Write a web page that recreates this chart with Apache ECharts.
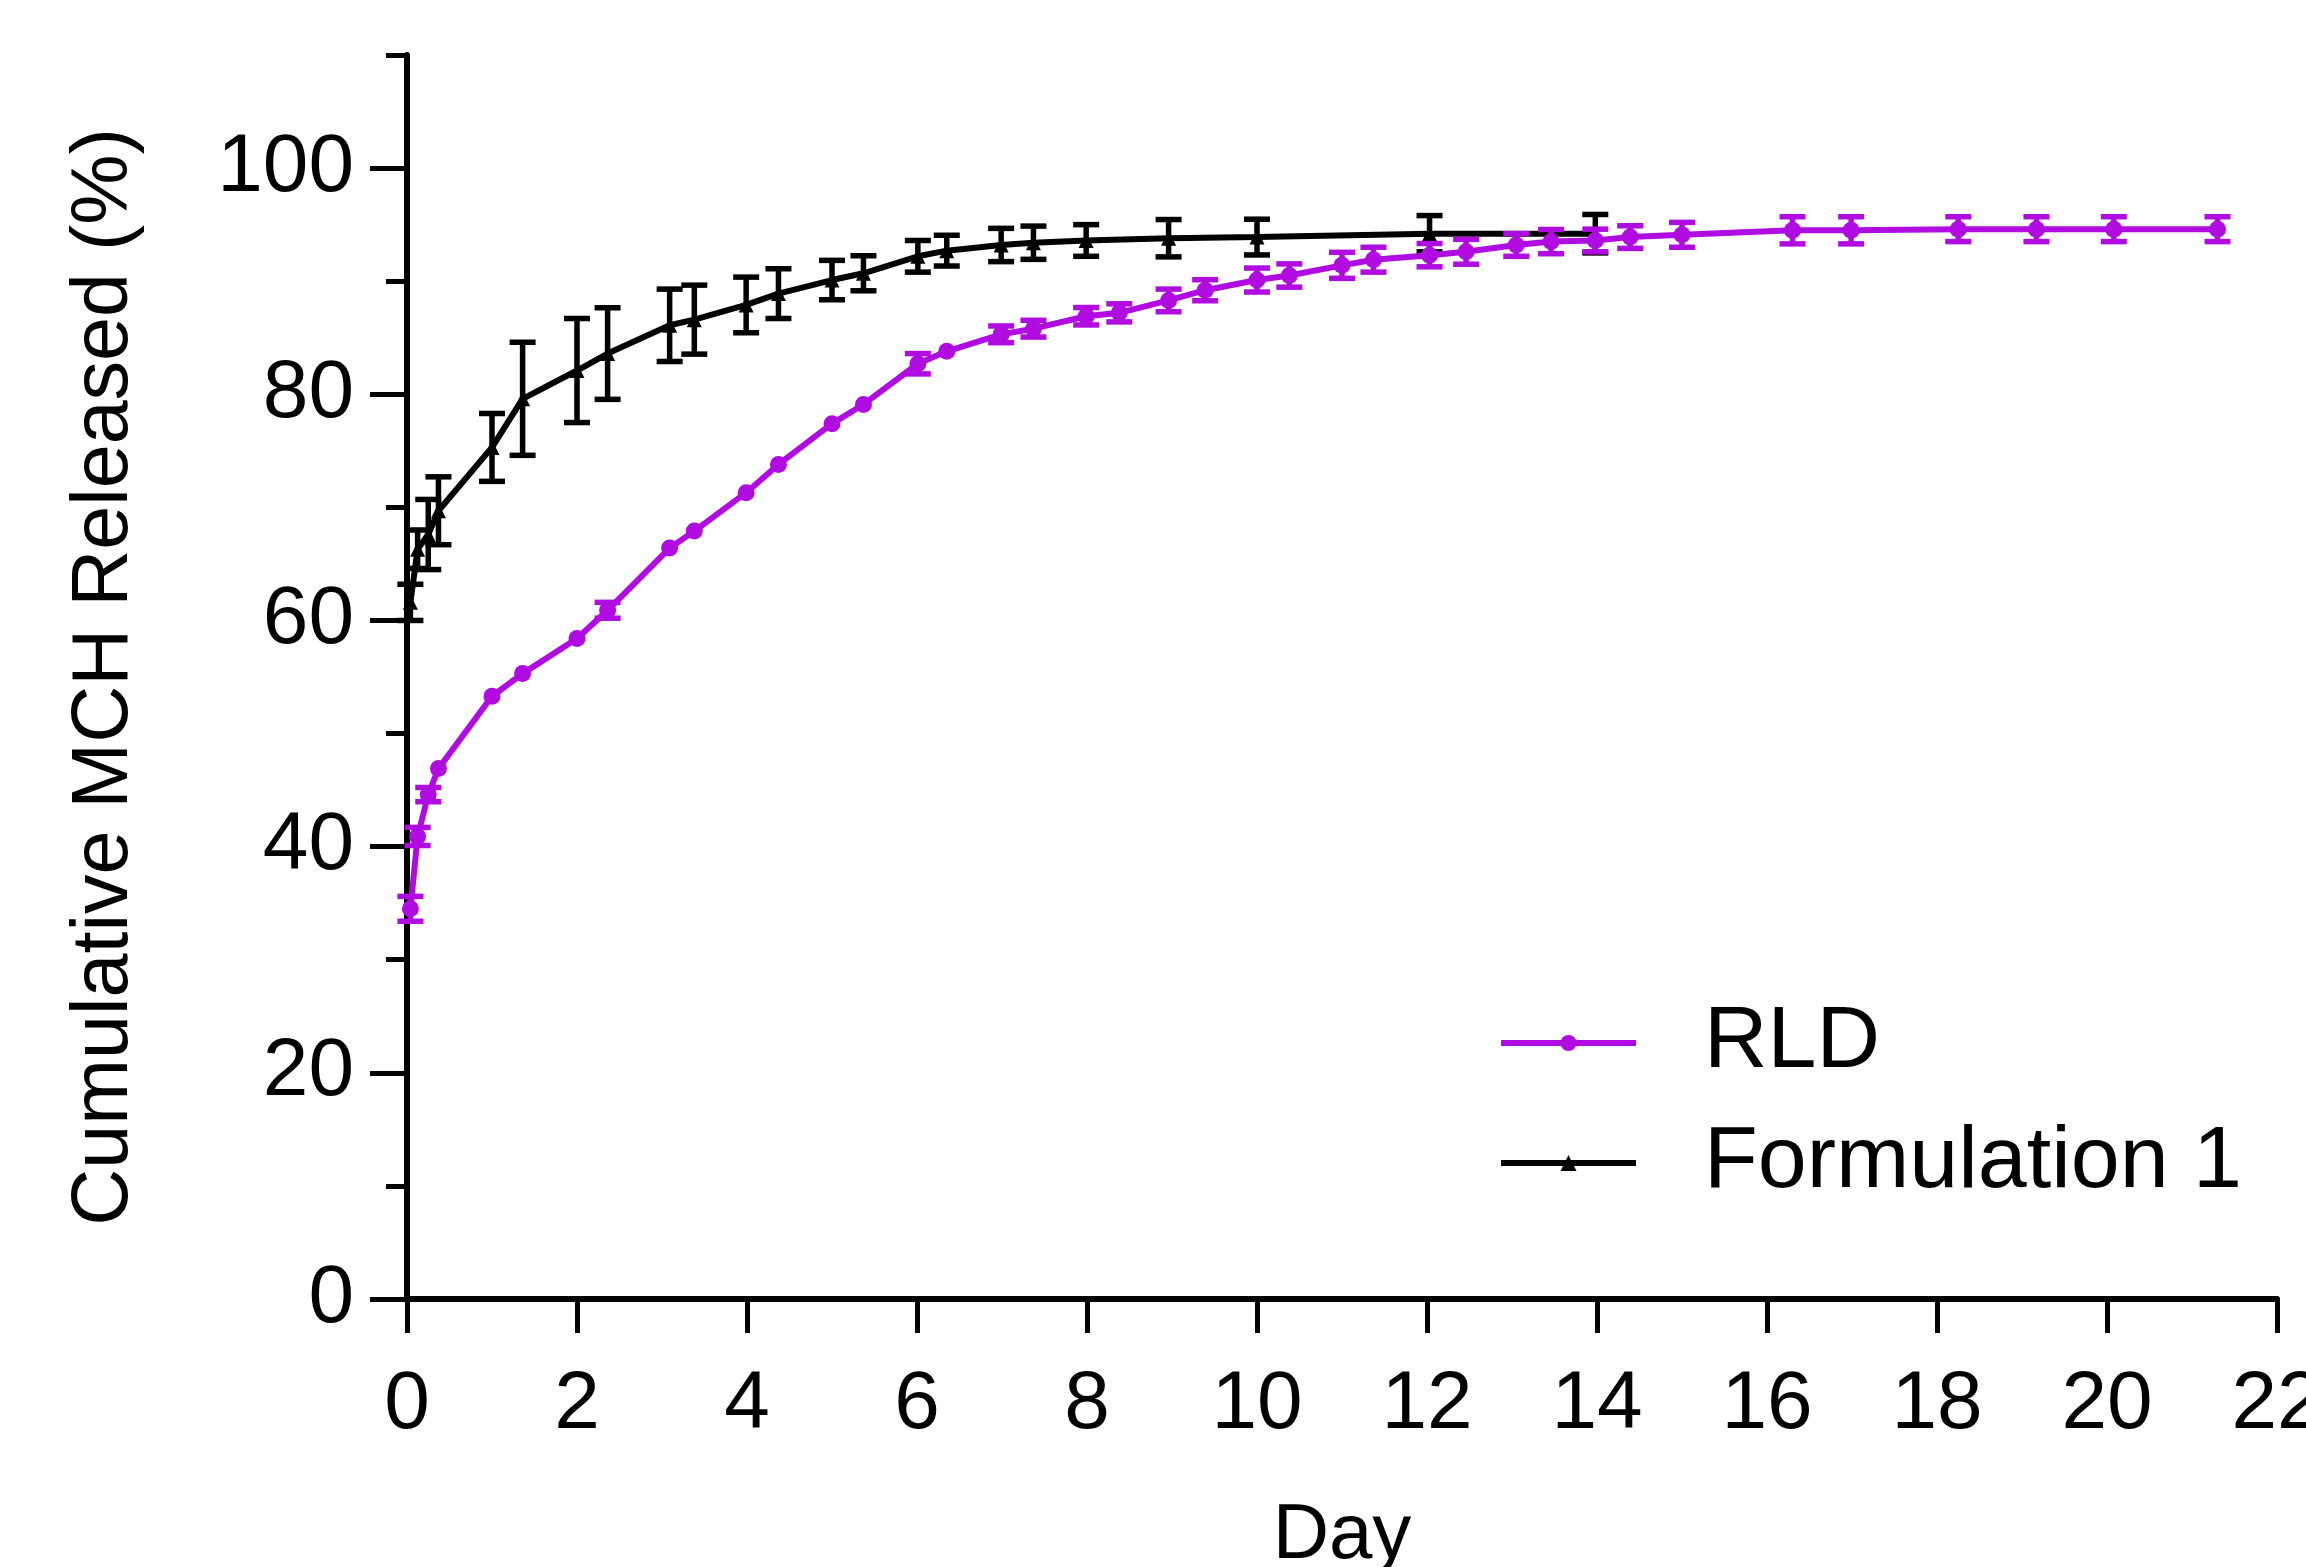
<!DOCTYPE html>
<html><head><meta charset="utf-8">
<script src="https://cdn.jsdelivr.net/npm/echarts@6/dist/echarts.min.js"></script>
<style>html,body{margin:0;padding:0;background:#fff;overflow:hidden}#chart{width:2306px;height:1567px}</style>
</head><body><div id="chart"></div>
<script>
// ---- data ----
const rldDays = [0.04, 0.125, 0.25, 0.37, 1.0, 1.36, 2.0, 2.36, 3.09, 3.38, 3.99, 4.37, 5.0, 5.37, 6.01, 6.35, 6.99, 7.37, 7.99, 8.38, 8.96, 9.39, 10.0, 10.38, 11.0, 11.37, 12.03, 12.46, 13.05, 13.46, 13.98, 14.39, 15.0, 16.3, 16.99, 18.25, 19.17, 20.08, 21.3];
const rldMean = [34.5, 40.9, 44.6, 46.9, 53.3, 55.3, 58.4, 60.9, 66.4, 67.9, 71.3, 73.8, 77.4, 79.1, 82.7, 83.8, 85.3, 85.8, 86.9, 87.2, 88.3, 89.2, 90.1, 90.5, 91.4, 91.9, 92.3, 92.6, 93.2, 93.5, 93.6, 93.9, 94.1, 94.5, 94.5, 94.6, 94.6, 94.6, 94.6];
const rldErr  = [1.1, 0.8, 0.63, 0, 0, 0, 0, 0.7, 0, 0, 0, 0, 0, 0, 0.9, 0, 0.74, 0.74, 0.77, 0.8, 1.0, 0.93, 1.06, 1.03, 1.15, 1.1, 1.03, 1.1, 1.0, 1.07, 1.0, 1.0, 1.1, 1.2, 1.2, 1.1, 1.1, 1.1, 1.1];

const f1Days = [0.04, 0.125, 0.25, 0.37, 1.0, 1.36, 2.0, 2.36, 3.09, 3.38, 3.99, 4.37, 5.0, 5.37, 6.01, 6.35, 6.99, 7.37, 7.99, 8.96, 10.0, 12.03, 13.98];
const f1Mean = [61.6, 66.3, 67.6, 69.7, 75.3, 79.6, 82.1, 83.6, 86.1, 86.6, 87.9, 88.9, 90.1, 90.7, 92.2, 92.7, 93.2, 93.4, 93.6, 93.8, 93.9, 94.2, 94.2];
const f1Err  = [1.6, 1.7, 3.1, 3.0, 3.0, 5.0, 4.6, 4.05, 3.2, 3.05, 2.46, 2.2, 1.74, 1.55, 1.4, 1.36, 1.47, 1.47, 1.4, 1.65, 1.58, 1.6, 1.7];

const seriesNames = ['RLD', 'Formulation 1'];
const xTitle = 'Day';
const yTitle = 'Cumulative MCH Released (%)';

// ---- styling ----
const FONT = '"Liberation Sans", Arial, sans-serif';
const PURPLE = '#B00BE0';
const BLACK = '#000000';
const W = 2306, H = 1567;

function zip(d, m, e) { return d.map((x, i) => e ? [x, m[i], e[i]] : [x, m[i]]); }

function errRender(color) {
  return function (params, api) {
    const x = api.value(0), y = api.value(1), e = api.value(2);
    if (!e) return null;
    const top = api.coord([x, y + e]);
    const bot = api.coord([x, y - e]);
    const hw = 13;
    const style = { stroke: color, lineWidth: 5.5, fill: null };
    return {
      type: 'group', children: [
        { type: 'line', shape: { x1: top[0], y1: top[1], x2: bot[0], y2: bot[1] }, style: style },
        { type: 'line', shape: { x1: top[0] - hw, y1: top[1], x2: top[0] + hw, y2: top[1] }, style: style },
        { type: 'line', shape: { x1: bot[0] - hw, y1: bot[1], x2: bot[0] + hw, y2: bot[1] }, style: style }
      ]
    };
  };
}

const chart = echarts.init(document.getElementById('chart'), null, { renderer: 'canvas', width: W, height: H });
chart.setOption({
  animation: false,
  backgroundColor: '#fff',
  textStyle: { fontFamily: FONT },
  grid: [
    { left: 407, right: 29, top: 55, bottom: 268, containLabel: false, outerBoundsMode: 'none' },
    { left: 407, right: 29, top: 168, bottom: 268, containLabel: false, outerBoundsMode: 'none' }
  ],
  legend: {
    data: seriesNames,
    orient: 'vertical',
    left: 1493, top: 994,
    itemWidth: 135, itemHeight: 20, itemGap: 32,
    lineStyle: { width: 6 },
    textStyle: { fontSize: 88, color: '#000', fontFamily: FONT, lineHeight: 86, padding: [0, 0, 0, 63] }
  },
  xAxis: [
    {
      type: 'value', gridIndex: 0, min: 0, max: 22, interval: 2,
      axisLine: { show: true, lineStyle: { color: '#000', width: 6 } },
      axisTick: { show: true, length: 34, lineStyle: { color: '#000', width: 5 } },
      axisLabel: { fontSize: 82, color: '#000', margin: 65, fontFamily: FONT },
      splitLine: { show: false },
      name: xTitle, nameLocation: 'middle', nameGap: 198,
      nameTextStyle: { fontSize: 78, color: '#000', fontFamily: FONT }
    },
    { type: 'value', gridIndex: 1, min: 0, max: 22, show: false }
  ],
  yAxis: [
    {
      type: 'value', gridIndex: 0, min: 0, max: 110, interval: 10,
      axisLine: { show: true, lineStyle: { color: '#000', width: 6 } },
      axisTick: { show: true, length: 21, lineStyle: { color: '#000', width: 5 } },
      axisLabel: { show: false },
      splitLine: { show: false },
      name: yTitle, nameLocation: 'middle', nameGap: 262, nameRotate: 90,
      nameTextStyle: { fontSize: 79, color: '#000', fontFamily: FONT }
    },
    {
      type: 'value', gridIndex: 1, min: 0, max: 100, interval: 20,
      axisLine: { show: false },
      axisTick: { show: true, length: 37, lineStyle: { color: '#000', width: 5 } },
      axisLabel: { fontSize: 82, color: '#000', margin: 53, fontFamily: FONT },
      splitLine: { show: false }
    }
  ],
  series: [
    {
      name: 'Formulation 1 error', type: 'custom', xAxisIndex: 0, yAxisIndex: 0,
      renderItem: errRender(BLACK), data: zip(f1Days, f1Mean, f1Err),
      encode: { x: 0, y: 1 }, z: 2
    },
    {
      name: seriesNames[1], type: 'line', xAxisIndex: 0, yAxisIndex: 0,
      data: zip(f1Days, f1Mean), symbol: 'triangle', symbolSize: 15,
      lineStyle: { color: BLACK, width: 6 }, itemStyle: { color: BLACK }, z: 3
    },
    {
      name: 'RLD error', type: 'custom', xAxisIndex: 0, yAxisIndex: 0,
      renderItem: errRender(PURPLE), data: zip(rldDays, rldMean, rldErr),
      encode: { x: 0, y: 1 }, z: 4
    },
    {
      name: seriesNames[0], type: 'line', xAxisIndex: 0, yAxisIndex: 0,
      data: zip(rldDays, rldMean), symbol: 'circle', symbolSize: 17,
      lineStyle: { color: PURPLE, width: 6 }, itemStyle: { color: PURPLE }, z: 5
    }
  ]
});
</script></body></html>
